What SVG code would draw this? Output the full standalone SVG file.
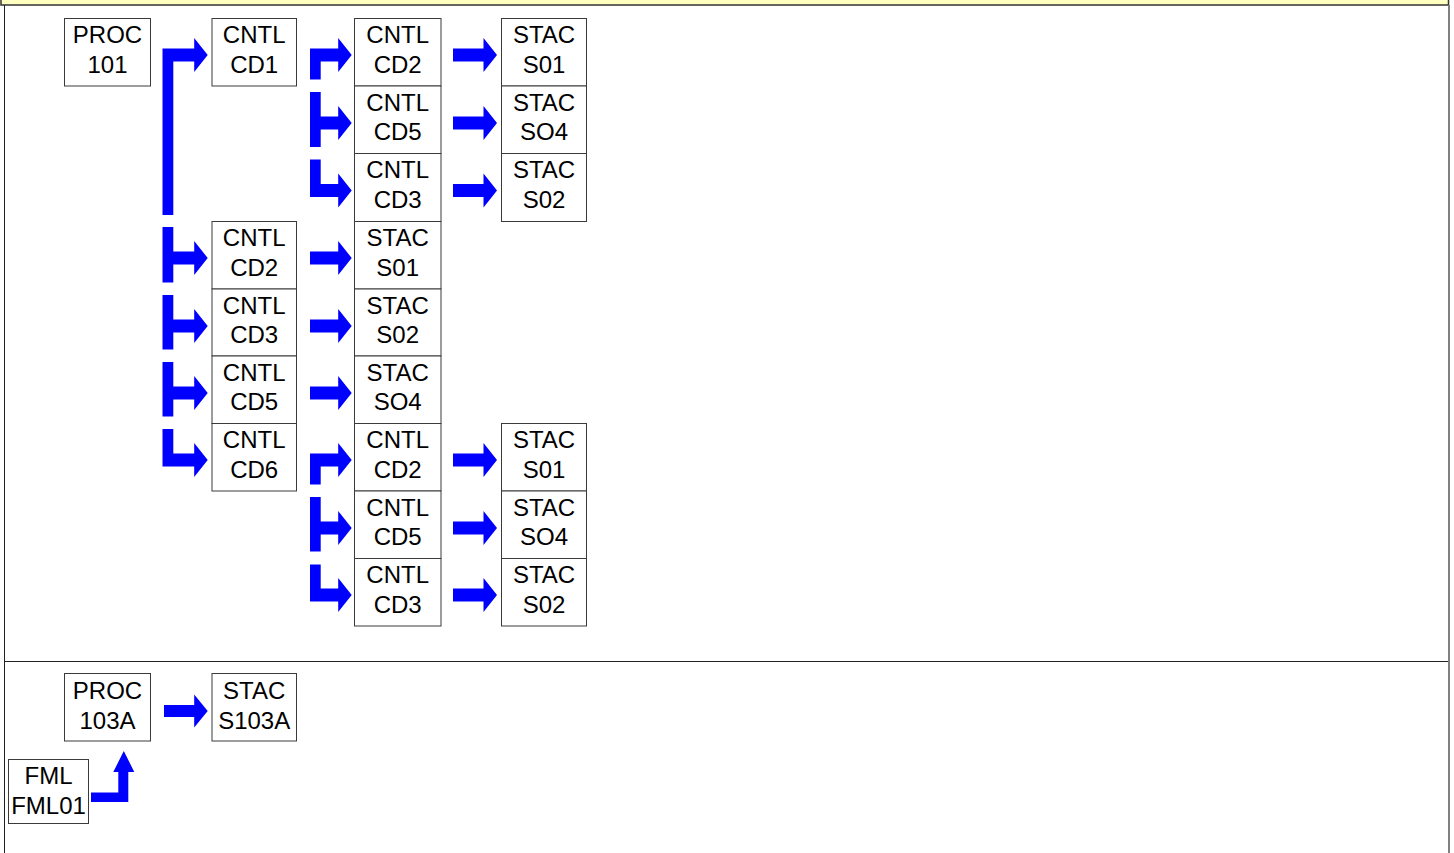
<svg xmlns="http://www.w3.org/2000/svg" width="1454" height="853" viewBox="0 0 1454 853">
<style>
.b{fill:#fff;stroke:#3a3a3a;stroke-width:1}
.t{font-family:"Liberation Sans",Arial,sans-serif;font-size:24px;fill:#000;text-anchor:middle}
.a{fill:#0000ff}
</style>
<rect x="0" y="0" width="1454" height="853" fill="#fff"/>
<rect x="1" y="-2" width="1447.5" height="7" fill="#ffffc0" stroke="#333" stroke-width="1.5"/>
<line x1="4.5" y1="5" x2="4.5" y2="853" stroke="#222" stroke-width="1"/>
<line x1="1449" y1="5" x2="1449" y2="853" stroke="#808080" stroke-width="2"/>
<line x1="4.5" y1="661.5" x2="1448" y2="661.5" stroke="#222" stroke-width="1"/>

<g id="proc101"><rect class="b" x="64.5" y="18.5" width="86" height="67.5"/><text class="t" x="107.5" y="43">PROC</text><text class="t" x="107.5" y="72.5">101</text></g>
<g id="cd1"><rect class="b" x="212" y="18.5" width="84.5" height="67.5"/><text class="t" x="254.2" y="43">CNTL</text><text class="t" x="254.2" y="72.5">CD1</text></g>
<g id="cd2b"><rect class="b" x="212" y="221.5" width="84.5" height="67.5"/><text class="t" x="254.2" y="246">CNTL</text><text class="t" x="254.2" y="275.5">CD2</text></g>
<g id="cd3b"><rect class="b" x="212" y="289" width="84.5" height="67"/><text class="t" x="254.2" y="313.5">CNTL</text><text class="t" x="254.2" y="343">CD3</text></g>
<g id="cd5b"><rect class="b" x="212" y="356" width="84.5" height="67.5"/><text class="t" x="254.2" y="380.5">CNTL</text><text class="t" x="254.2" y="410">CD5</text></g>
<g id="cd6"><rect class="b" x="212" y="423.5" width="84.5" height="67.5"/><text class="t" x="254.2" y="448">CNTL</text><text class="t" x="254.2" y="477.5">CD6</text></g>

<g id="c2r0"><rect class="b" x="354.5" y="18.5" width="86.5" height="67.5"/><text class="t" x="397.7" y="43">CNTL</text><text class="t" x="397.7" y="72.5">CD2</text></g>
<g id="c2r1"><rect class="b" x="354.5" y="86" width="86.5" height="67.5"/><text class="t" x="397.7" y="110.5">CNTL</text><text class="t" x="397.7" y="140">CD5</text></g>
<g id="c2r2"><rect class="b" x="354.5" y="153.5" width="86.5" height="68"/><text class="t" x="397.7" y="178">CNTL</text><text class="t" x="397.7" y="207.5">CD3</text></g>
<g id="c2r3"><rect class="b" x="354.5" y="221.5" width="86.5" height="67.5"/><text class="t" x="397.7" y="246">STAC</text><text class="t" x="397.7" y="275.5">S01</text></g>
<g id="c2r4"><rect class="b" x="354.5" y="289" width="86.5" height="67"/><text class="t" x="397.7" y="313.5">STAC</text><text class="t" x="397.7" y="343">S02</text></g>
<g id="c2r5"><rect class="b" x="354.5" y="356" width="86.5" height="67.5"/><text class="t" x="397.7" y="380.5">STAC</text><text class="t" x="397.7" y="410">SO4</text></g>
<g id="c2r6"><rect class="b" x="354.5" y="423.5" width="86.5" height="67.5"/><text class="t" x="397.7" y="448">CNTL</text><text class="t" x="397.7" y="477.5">CD2</text></g>
<g id="c2r7"><rect class="b" x="354.5" y="491" width="86.5" height="67.5"/><text class="t" x="397.7" y="515.5">CNTL</text><text class="t" x="397.7" y="545">CD5</text></g>
<g id="c2r8"><rect class="b" x="354.5" y="558.5" width="86.5" height="67.5"/><text class="t" x="397.7" y="583">CNTL</text><text class="t" x="397.7" y="612.5">CD3</text></g>

<g id="c3r0"><rect class="b" x="501.5" y="18.5" width="85" height="67.5"/><text class="t" x="544" y="43">STAC</text><text class="t" x="544" y="72.5">S01</text></g>
<g id="c3r1"><rect class="b" x="501.5" y="86" width="85" height="67.5"/><text class="t" x="544" y="110.5">STAC</text><text class="t" x="544" y="140">SO4</text></g>
<g id="c3r2"><rect class="b" x="501.5" y="153.5" width="85" height="68"/><text class="t" x="544" y="178">STAC</text><text class="t" x="544" y="207.5">S02</text></g>
<g id="c3r6"><rect class="b" x="501.5" y="423.5" width="85" height="67.5"/><text class="t" x="544" y="448">STAC</text><text class="t" x="544" y="477.5">S01</text></g>
<g id="c3r7"><rect class="b" x="501.5" y="491" width="85" height="67.5"/><text class="t" x="544" y="515.5">STAC</text><text class="t" x="544" y="545">SO4</text></g>
<g id="c3r8"><rect class="b" x="501.5" y="558.5" width="85" height="67.5"/><text class="t" x="544" y="583">STAC</text><text class="t" x="544" y="612.5">S02</text></g>

<g id="proc103a"><rect class="b" x="64.5" y="673.5" width="86" height="67.5"/><text class="t" x="107.5" y="698.5">PROC</text><text class="t" x="107.5" y="728.5">103A</text></g>
<g id="s103a"><rect class="b" x="212" y="673.5" width="84.5" height="67.5"/><text class="t" x="254.2" y="698.5">STAC</text><text class="t" x="254.2" y="728.5">S103A</text></g>
<g id="fml01"><rect class="b" x="8.5" y="759.5" width="80" height="64"/><text class="t" x="48.5" y="784">FML</text><text class="t" x="48.5" y="814">FML01</text></g>

<g id="connectors" class="a">
<!-- column 1 tree -->
<path d="M162.5,215 V48.5 H194.2 V38 L207.7,55 L194.2,72 V61.5 H173.3 V215 Z"/>
<path d="M162.5,227 H173.3 V251.5 H194.2 V241 L207.7,258 L194.2,275 V264.5 H173.3 V282.5 H162.5 Z"/>
<path d="M162.5,295 H173.3 V319.5 H194.2 V309 L207.7,326 L194.2,343 V332.5 H173.3 V349.5 H162.5 Z"/>
<path d="M162.5,362 H173.3 V386.5 H194.2 V376 L207.7,393 L194.2,410 V399.5 H173.3 V416.5 H162.5 Z"/>
<path d="M162.5,429 H173.3 V453.5 H194.2 V443 L207.7,460 L194.2,477 V466.5 H162.5 Z"/>
<!-- column 2 tree, group A -->
<path d="M310,79.5 V48.5 H338.2 V38 L351.7,55 L338.2,72 V61.5 H320.7 V79.5 Z"/>
<path d="M310,92 H320.7 V116.5 H338.2 V106 L351.7,123 L338.2,140 V129.5 H320.7 V147 H310 Z"/>
<path d="M310,159.5 H320.7 V184 H338.2 V173.5 L351.7,190.5 L338.2,207.5 V197 H310 Z"/>
<!-- column 2 straight -->
<path d="M310,251.5 H338.2 V241 L351.7,258 L338.2,275 V264.5 H310 Z"/>
<path d="M310,319.5 H338.2 V309 L351.7,326 L338.2,343 V332.5 H310 Z"/>
<path d="M310,386.5 H338.2 V376 L351.7,393 L338.2,410 V399.5 H310 Z"/>
<!-- column 2 tree, group B -->
<path d="M310,484.5 V453.5 H338.2 V443 L351.7,460 L338.2,477 V466.5 H320.7 V484.5 Z"/>
<path d="M310,497 H320.7 V521.5 H338.2 V511 L351.7,528 L338.2,545 V534.5 H320.7 V551.5 H310 Z"/>
<path d="M310,564.5 H320.7 V588.5 H338.2 V578 L351.7,595 L338.2,612 V601.5 H310 Z"/>
<!-- column 3 straight -->
<path d="M453,48.5 H483.5 V38 L497,55 L483.5,72 V61.5 H453 Z"/>
<path d="M453,116.5 H483.5 V106 L497,123 L483.5,140 V129.5 H453 Z"/>
<path d="M453,184 H483.5 V173.5 L497,190.5 L483.5,207.5 V197 H453 Z"/>
<path d="M453,453.5 H483.5 V443 L497,460 L483.5,477 V466.5 H453 Z"/>
<path d="M453,521.5 H483.5 V511 L497,528 L483.5,545 V534.5 H453 Z"/>
<path d="M453,588.5 H483.5 V578 L497,595 L483.5,612 V601.5 H453 Z"/>
<!-- bottom section -->
<path d="M164,705 H194.2 V694.5 L207.7,711 L194.2,727.5 V717 H164 Z"/>
<path d="M91,792.5 H118.3 V772 H113.3 L123.8,751 L134.3,772 H128.3 V802 H91 Z"/>
</g>
</svg>
